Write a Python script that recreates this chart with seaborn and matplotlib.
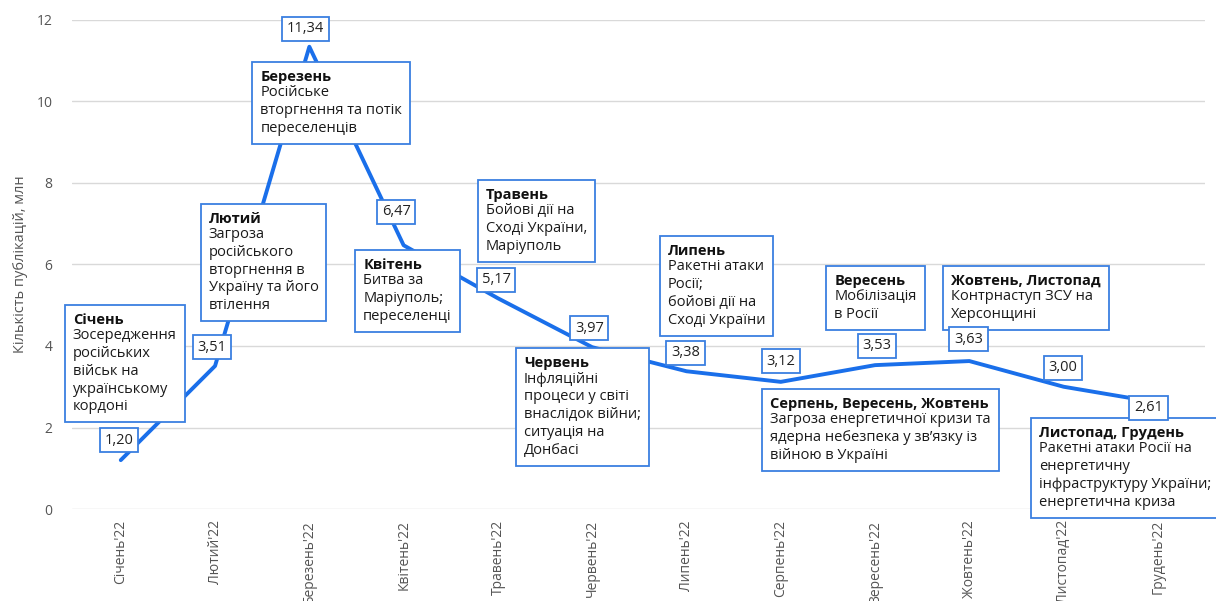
import pandas as pd
import matplotlib
matplotlib.use("Agg")
import matplotlib.pyplot as plt
import seaborn as sns
from matplotlib.offsetbox import TextArea, VPacker, AnnotationBbox

months = ["Січень'22", "Лютий'22", "Березень'22", "Квітень'22", "Травень'22", "Червень'22",
          "Липень'22", "Серпень'22", "Вересень'22", "Жовтень'22", "Листопад'22", "Грудень'22"]
values = [1.20, 3.51, 11.34, 6.47, 5.17, 3.97, 3.38, 3.12, 3.53, 3.63, 3.00, 2.61]

# value label positions (x, y in data units)
label_pos = [(-0.02, 1.69), (0.97, 3.97), (1.96, 11.78), (2.92, 7.29), (3.98, 5.62), (4.97, 4.44),
             (5.99, 3.83), (7.0, 3.63), (8.02, 4.0), (8.99, 4.17), (9.99, 3.46), (10.9, 2.48)]

event_titles = ["Січень", "Лютий", "Березень", "Квітень", "Травень", "Червень", "Липень",
                "Серпень, Вересень, Жовтень", "Вересень", "Жовтень, Листопад", "Листопад, Грудень"]
event_texts = [
    "Зосередження\nросійських\nвійськ на\nукраїнському\nкордоні",
    "Загроза\nросійського\nвторгнення в\nУкраїну та його\nвтілення",
    "Російське\nвторгнення та потік\nпереселенців",
    "Битва за\nМаріуполь;\nпереселенці",
    "Бойові дії на\nСході України,\nМаріуполь",
    "Інфляційні\nпроцеси у світі\nвнаслідок війни;\nситуація на\nДонбасі",
    "Ракетні атаки\nРосії;\nбойові дії на\nСході України",
    "Загроза енергетичної кризи та\nядерна небезпека у зв’язку із\nвійною в Україні",
    "Мобілізація\nв Росії",
    "Контрнаступ ЗСУ на\nХерсонщині",
    "Ракетні атаки Росії на\nенергетичну\nінфраструктуру України;\nенергетична криза",
]
event_pos = [(-0.508, 4.81), (0.931, 7.29), (1.481, 10.77), (2.571, 6.16), (3.873, 7.88),
             (4.275, 3.75), (5.799, 6.50), (6.889, 2.75), (7.566, 5.77), (8.804, 5.77), (9.735, 2.04)]

blue = "#1a6fea"
box_blue = "#3a7fe0"
grey = "#555555"

sns.set_theme(style="whitegrid")
plt.rcParams['font.family'] = ['Open Sans', 'DejaVu Sans']

df = pd.DataFrame({"month": months, "value": values})

fig = plt.figure(figsize=(12.16, 6.01), dpi=100)
ax = fig.add_axes([0.059, 0.153, 0.932, 0.814])

sns.lineplot(data=df, x="month", y="value", sort=False, color=blue, linewidth=2.8, ax=ax, zorder=2)

ax.set_ylim(0, 12)
ax.set_xlim(-0.52, 11.5)
ax.set_yticks(range(0, 13, 2))
ax.grid(axis="y", color="#d9d9d9", linewidth=1.0)
ax.grid(axis="x", visible=False)
for s in ax.spines.values():
    s.set_visible(False)
ax.tick_params(axis="both", length=0, colors=grey, labelsize=10)
ax.tick_params(axis="y", pad=14)
plt.setp(ax.get_xticklabels(), rotation=90, va="top", ha="center")
ax.tick_params(axis="x", pad=8)
ax.set_xlabel("")
ax.set_ylabel("Кількість публікацій, млн", color=grey, fontsize=10.5)
ax.yaxis.set_label_coords(-0.039, 0.5)

for v, (lx, ly) in zip(values, label_pos):
    ax.text(lx, ly, f"{v:.2f}".replace(".", ","), ha="center", va="center", fontsize=10.5,
            color="#222222", zorder=6,
            bbox=dict(boxstyle="square,pad=0.32", fc="white", ec=box_blue, lw=1.3))

for title, body, (ex, ey) in zip(event_titles, event_texts, event_pos):
    t1 = TextArea(title, textprops=dict(fontsize=10.5, weight="bold", color="#111111"))
    t2 = TextArea(body, textprops=dict(fontsize=10.5, color="#1a1a1a", linespacing=1.25))
    pack = VPacker(children=[t1, t2], align="left", pad=0, sep=1)
    ab = AnnotationBbox(pack, (ex, ey), xycoords="data", box_alignment=(0, 1), frameon=True,
                        pad=0.55, fontsize=10.5, annotation_clip=False,
                        bboxprops=dict(boxstyle="square,pad=0.55", fc="white", ec=box_blue, lw=1.3))
    ab.set_zorder(5)
    ax.add_artist(ab)

fig.savefig("out.png", dpi=100)
